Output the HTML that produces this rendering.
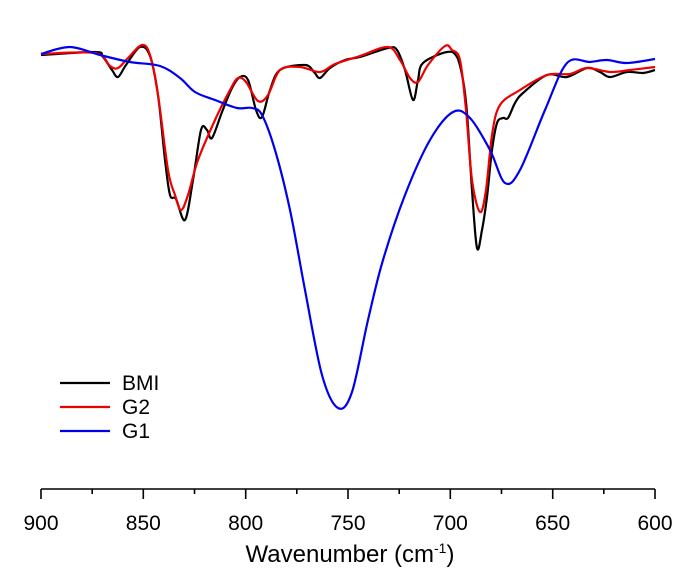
<!DOCTYPE html>
<html><head><meta charset="utf-8"><style>
body{margin:0;background:#fff;}
svg{display:block;font-family:"Liberation Sans",Arial,sans-serif;}
</style></head><body>
<svg id="s" width="687" height="577" viewBox="0 0 687 577">
<g stroke="#000" stroke-width="1.6" fill="none">
<line x1="41" y1="489" x2="655" y2="489"/>
<line x1="41" y1="489" x2="41" y2="499"/><line x1="143.3" y1="489" x2="143.3" y2="499"/>
<line x1="245.7" y1="489" x2="245.7" y2="499"/><line x1="348" y1="489" x2="348" y2="499"/>
<line x1="450.3" y1="489" x2="450.3" y2="499"/><line x1="552.7" y1="489" x2="552.7" y2="499"/>
<line x1="655" y1="489" x2="655" y2="499"/>
<line x1="92.2" y1="489" x2="92.2" y2="494"/><line x1="194.5" y1="489" x2="194.5" y2="494"/>
<line x1="296.8" y1="489" x2="296.8" y2="494"/><line x1="399.2" y1="489" x2="399.2" y2="494"/>
<line x1="501.5" y1="489" x2="501.5" y2="494"/><line x1="603.8" y1="489" x2="603.8" y2="494"/>
</g>
<g font-size="21" text-anchor="middle" fill="#000">
<text x="41" y="530">900</text><text x="143.3" y="530">850</text><text x="245.7" y="530">800</text>
<text x="348" y="530">750</text><text x="450.3" y="530">700</text><text x="552.7" y="530">650</text>
<text x="655" y="530">600</text>
</g>
<text x="350" y="562" font-size="24" text-anchor="middle">Wavenumber (cm<tspan font-size="14" dy="-9">-1</tspan><tspan dy="9">)</tspan></text>
<g stroke-width="2.2" fill="none">
<line x1="60" y1="383" x2="110" y2="383" stroke="#000"/>
<line x1="60" y1="407" x2="110" y2="407" stroke="#e00"/>
<line x1="60" y1="431" x2="110" y2="431" stroke="#00e"/>
</g>
<g font-size="21" fill="#000">
<text x="122" y="390">BMI</text><text x="122" y="414">G2</text><text x="122" y="438">G1</text>
</g>
</svg>
<script>
function path(p,c,w){
 let d="M"+p[0][0]+","+p[0][1];
 for(let i=0;i<p.length-1;i++){
  const p0=p[Math.max(0,i-1)],p1=p[i],p2=p[i+1],p3=p[Math.min(p.length-1,i+2)];
  const c1=[p1[0]+(p2[0]-p0[0])/6,p1[1]+(p2[1]-p0[1])/6];
  const c2=[p2[0]-(p3[0]-p1[0])/6,p2[1]-(p3[1]-p1[1])/6];
  d+=" C"+c1[0].toFixed(1)+","+c1[1].toFixed(1)+" "+c2[0].toFixed(1)+","+c2[1].toFixed(1)+" "+p2[0]+","+p2[1];
 }
 const e=document.createElementNS("http://www.w3.org/2000/svg","path");
 e.setAttribute("d",d);e.setAttribute("stroke",c);e.setAttribute("stroke-width",w);e.setAttribute("fill","none");
 e.setAttribute("stroke-linejoin","round");
 document.getElementById("s").appendChild(e);
}
const blue=[[41,54],[70,47],[100,55],[130,62],[160,66],[180,78],[195,92],[215,100],[237,108],[252,108],[262,115],[275,150],[290,210],[305,290],[322,375],[338,408],[352,392],[368,320],[383,260],[405,195],[430,140],[453,112],[470,118],[490,150],[505,183],[520,170],[545,110],[567,63],[590,62],[607,60],[627,63],[655,59]];
const black=[[41,55],[95,52],[103,57],[112,70],[118,77],[126,65],[140,47],[150,56],[158,95],[165,160],[170,195],[176,199],[185,220],[193,180],[201,130],[207,130],[212,138],[222,112],[232,88],[240,77],[248,80],[256,110],[262,117],[270,90],[280,70],[305,65],[314,72],[320,78],[330,68],[345,60],[360,57],[388,48],[397,50],[405,70],[413,100],[418,80],[423,63],[447,52],[457,57],[463,80],[467,113],[472,190],[477,248],[482,230],[487,197],[492,150],[497,123],[503,118],[508,118],[515,103],[523,93],[547,75],[567,77],[587,68],[600,72],[610,77],[627,72],[643,73],[655,70]];
const red=[[41,54],[95,53],[110,66],[118,68],[128,58],[142,45],[150,55],[158,95],[168,170],[175,195],[181,210],[188,195],[198,160],[215,120],[230,90],[238,78],[246,82],[258,101],[268,95],[280,70],[300,67],[320,72],[335,64],[360,56],[388,47],[400,60],[410,78],[418,82],[428,65],[445,46],[452,50],[460,60],[466,110],[472,180],[480,212],[486,190],[492,135],[500,105],[520,90],[547,75],[570,74],[587,68],[610,72],[630,70],[655,67]];
path(black,"#000",2.2);path(red,"#e00",2.2);path(blue,"#00e",2.2);
</script>
</body></html>
